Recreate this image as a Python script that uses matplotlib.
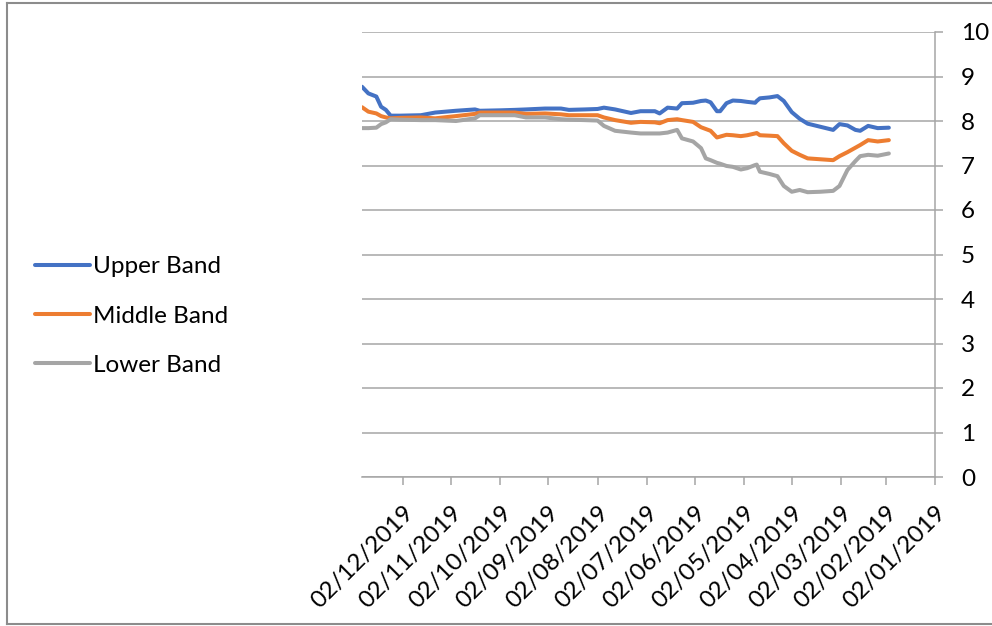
import matplotlib
matplotlib.use("Agg")
import matplotlib.pyplot as plt
import matplotlib.dates as mdates
from matplotlib.lines import Line2D
import pandas as pd

plt.rcParams['font.family'] = ['Lato', 'DejaVu Sans']

# dates run backwards in the chart (latest on the left)
dates = ["2019-12-28", "2019-12-24", "2019-12-19", "2019-12-16", "2019-12-13", "2019-12-10",
         "2019-12-04", "2019-11-21", "2019-11-12", "2019-10-30", "2019-10-18", "2019-10-15",
         "2019-10-02", "2019-09-23", "2019-09-16", "2019-09-04", "2019-08-25", "2019-08-20",
         "2019-08-10", "2019-08-02", "2019-07-29", "2019-07-22", "2019-07-12", "2019-07-06",
         "2019-06-27", "2019-06-24", "2019-06-19", "2019-06-13", "2019-06-10", "2019-06-03",
         "2019-05-29", "2019-05-26", "2019-05-23", "2019-05-19", "2019-05-17", "2019-05-13",
         "2019-05-09", "2019-05-04", "2019-04-30", "2019-04-25", "2019-04-24", "2019-04-22",
         "2019-04-16", "2019-04-11", "2019-04-07", "2019-04-02", "2019-03-28", "2019-03-23",
         "2019-03-15", "2019-03-07", "2019-03-03", "2019-02-26", "2019-02-21", "2019-02-18",
         "2019-02-13", "2019-02-07", "2019-01-31"]

upper = [8.77, 8.62, 8.55, 8.32, 8.25, 8.12, 8.12, 8.13, 8.19, 8.23, 8.26, 8.23,
         8.24, 8.25, 8.26, 8.28, 8.28, 8.25, 8.26, 8.27, 8.30, 8.26, 8.18, 8.22,
         8.22, 8.17, 8.30, 8.28, 8.40, 8.41, 8.45, 8.46, 8.42, 8.22, 8.22, 8.40,
         8.46, 8.45, 8.43, 8.41, 8.45, 8.51, 8.53, 8.56, 8.45, 8.20, 8.05, 7.94,
         7.87, 7.80, 7.93, 7.90, 7.80, 7.78, 7.89, 7.84, 7.85]

middle = [8.31, 8.21, 8.17, 8.11, 8.08, 8.06, 8.07, 8.08, 8.06, 8.11, 8.16, 8.19,
          8.19, 8.19, 8.16, 8.17, 8.15, 8.13, 8.13, 8.13, 8.08, 8.02, 7.96, 7.98,
          7.97, 7.95, 8.02, 8.04, 8.02, 7.98, 7.86, 7.82, 7.78, 7.63, 7.65, 7.69,
          7.68, 7.66, 7.68, 7.72, 7.73, 7.68, 7.67, 7.66, 7.50, 7.33, 7.24, 7.16,
          7.14, 7.12, 7.21, 7.30, 7.40, 7.46, 7.57, 7.54, 7.57]

lower = [7.84, 7.84, 7.85, 7.93, 7.97, 8.04, 8.03, 8.02, 8.02, 8.00, 8.06, 8.13,
         8.13, 8.13, 8.08, 8.08, 8.04, 8.03, 8.02, 8.01, 7.89, 7.78, 7.74, 7.72,
         7.72, 7.72, 7.74, 7.80, 7.61, 7.54, 7.39, 7.16, 7.12, 7.06, 7.04, 6.99,
         6.97, 6.91, 6.94, 7.01, 7.02, 6.86, 6.81, 6.76, 6.54, 6.41, 6.45, 6.40,
         6.41, 6.43, 6.54, 6.90, 7.10, 7.21, 7.24, 7.22, 7.27]

labels = ["Upper Band", "Middle Band", "Lower Band"]
colors = ["#4472C4", "#ED7D31", "#A5A5A5"]

x = pd.to_datetime(dates)
grid_col = "#a6a6a6"
fs = 17.5

fig = plt.figure(figsize=(9.92, 6.26), dpi=100)
ax = fig.add_axes([362 / 992, 1 - 477 / 626, 573 / 992, 445 / 626])

for vals, lab, col in zip([upper, middle, lower], labels, colors):
    ax.plot(x, vals, color=col, lw=2.9, label=lab, solid_capstyle="round")

ax.set_ylim(0, 10)
ax.set_yticks(range(0, 11))
ax.set_xlim(pd.Timestamp("2019-12-28"), pd.Timestamp("2019-01-02"))
ax.xaxis.set_major_locator(mdates.MonthLocator(bymonthday=2))
ax.xaxis.set_major_formatter(mdates.DateFormatter("%d/%m/%Y"))

ax.yaxis.tick_right()
ax.grid(axis="y", color=grid_col, lw=1.1)
ax.set_axisbelow(True)
for s in ["top", "left"]:
    ax.spines[s].set_visible(False)
for s in ["right", "bottom"]:
    ax.spines[s].set_color(grid_col)
    ax.spines[s].set_linewidth(1.1)
ax.tick_params(axis="both", direction="out", length=5.8, width=1.1, color=grid_col,
               labelsize=fs)
ax.tick_params(axis="y", pad=13)
ax.tick_params(axis="x", pad=12)
for lbl in ax.get_xticklabels():
    lbl.set_rotation(45)
    lbl.set_ha("right")
    lbl.set_va("top")
    lbl.set_rotation_mode("anchor")

leg = fig.legend(loc="center left", bbox_to_anchor=(35 / 992, 1 - 316 / 626),
                 frameon=False, fontsize=fs, handlelength=2.26, handletextpad=0.12,
                 labelspacing=1.17, borderpad=0, borderaxespad=0)
for h in leg.get_lines():
    h.set_linewidth(2.9)

# outer chart border (left, top, bottom)
fig.add_artist(Line2D([7 / 992, 7 / 992], [1 - 3 / 626, 1 - 624 / 626],
                      transform=fig.transFigure, color="#8c8c8c", lw=1.5))
fig.add_artist(Line2D([7 / 992, 1.0], [1 - 3 / 626, 1 - 3 / 626],
                      transform=fig.transFigure, color="#8c8c8c", lw=1.5))
fig.add_artist(Line2D([7 / 992, 1.0], [1 - 624 / 626, 1 - 624 / 626],
                      transform=fig.transFigure, color="#8c8c8c", lw=1.5))

fig.savefig("out.png", dpi=100)
